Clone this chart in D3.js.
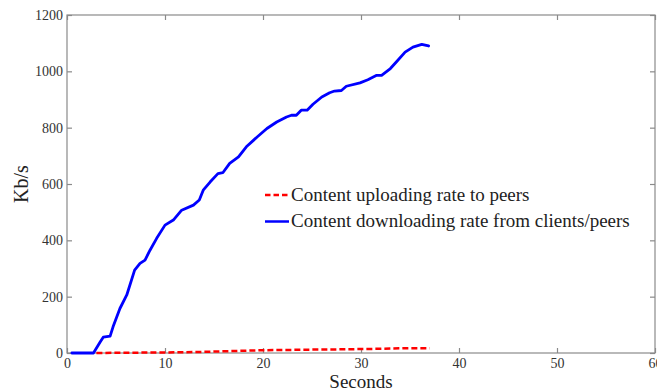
<!DOCTYPE html>
<html><head><meta charset="utf-8">
<script src="https://cdn.jsdelivr.net/npm/d3@7"></script>
<style>body{margin:0;background:#fff;} svg{display:block;} text{font-family:"Liberation Serif","Times New Roman",serif;}</style>
</head><body>
<svg id="chart" width="657" height="392"></svg>
<script>
const xTicks = [0,10,20,30,40,50,60];
const yTicks = [0,200,400,600,800,1000,1200];
const downT = [0.5,2.7,3.4,3.7,4.4,4.7,5.4,6.1,6.9,7.45,7.96,8.47,9.15,10,10.85,11.7,12.9,13.5,13.9,14.6,15.4,15.9,16.6,17.5,18.3,19.4,20.4,21.4,22.4,22.9,23.4,23.9,24.5,25.1,26.0,26.8,27.3,28.0,28.5,29.9,30.7,31.6,32.1,33.0,33.6,34.5,35.3,36.2,36.9];
const downV = [0,0,40,56,60,93,158,206,294,318,330,365,407,454,472,507,525,543,578,607,637,640,673,696,732,767,797,820,838,844,844,862,862,883,909,924,930,932,947,959,970,986,986,1010,1033,1068,1086,1096,1090];
const upT = [3,6,10,14,16,18,20,23,25,28,30,32,33,35,37];
const upV = [0,1,2,4,6,8,10,11,12,13,14,15,16,17,17];
const legendLabels = ["Content uploading rate to peers","Content downloading rate from clients/peers"];

const svg = d3.select("#chart");
const m = {l:67, t:15, r:655, b:353};
const x = d3.scaleLinear().domain([0,60]).range([m.l, m.r]);
const y = d3.scaleLinear().domain([0,1200]).range([m.b, m.t]);
const frameCol = "#8a8a8a", textCol = "#333";
const font = "Liberation Serif, Times New Roman, serif";

svg.append("rect").attr("x",m.l).attr("y",m.t).attr("width",m.r-m.l).attr("height",m.b-m.t)
  .attr("fill","none").attr("stroke",frameCol).attr("stroke-width",1.2);

const tl = 5, fmt = d3.format("d");
const xb = svg.append("g").attr("transform",`translate(0,${m.b})`)
  .call(d3.axisBottom(x).tickValues(xTicks).tickSize(-tl).tickPadding(5).tickFormat(fmt));
const xt = svg.append("g").attr("transform",`translate(0,${m.t})`)
  .call(d3.axisTop(x).tickValues(xTicks).tickSize(-tl).tickFormat(""));
const yl = svg.append("g").attr("transform",`translate(${m.l},0)`)
  .call(d3.axisLeft(y).tickValues(yTicks).tickSize(-tl).tickPadding(4).tickFormat(fmt));
const yr = svg.append("g").attr("transform",`translate(${m.r},0)`)
  .call(d3.axisRight(y).tickValues(yTicks).tickSize(-tl).tickFormat(""));
[xb,xt,yl,yr].forEach(g=>{
  g.attr("font-family",font).attr("font-size",14);
  g.select(".domain").remove();
  g.selectAll(".tick line").attr("stroke",frameCol).attr("stroke-width",1.2);
  g.selectAll(".tick text").attr("fill",textCol);
});

svg.append("text").attr("x",(m.l+m.r)/2).attr("y",388).attr("text-anchor","middle")
  .attr("font-family",font).attr("font-size",19).attr("fill","#222").text("Seconds");
svg.append("text").attr("transform",`translate(28,${(m.t+m.b)/2}) rotate(-90)`).attr("text-anchor","middle")
  .attr("font-family",font).attr("font-size",20).attr("fill","#222").text("Kb/s");

const line = d3.line().x(d=>x(d[0])).y(d=>y(d[1]));
const downData = downT.map((t,i)=>[t,downV[i]]);
const upData = upT.map((t,i)=>[t,upV[i]]);

svg.append("path").datum(downData).attr("d",line).attr("fill","none")
  .attr("stroke","#0000ff").attr("stroke-width",2.8).attr("stroke-linejoin","round").attr("stroke-linecap","round");
svg.append("path").datum(upData).attr("d",line).attr("fill","none")
  .attr("stroke","#ff0000").attr("stroke-width",2.5).attr("stroke-dasharray","6,3");

const lg = svg.append("g");
const items = [{c:"#ff0000",dash:"5.5,3",y:195},{c:"#0000ff",dash:null,y:221.5}];
items.forEach((it,i)=>{
  lg.append("line").attr("x1",265).attr("x2",289).attr("y1",it.y).attr("y2",it.y)
    .attr("stroke",it.c).attr("stroke-width",2.5).attr("stroke-dasharray",it.dash);
  lg.append("text").attr("x",291).attr("y",it.y+5.5).attr("font-family",font).attr("font-size",19)
    .attr("fill","#222").text(legendLabels[i]);
});
</script>
</body></html>
